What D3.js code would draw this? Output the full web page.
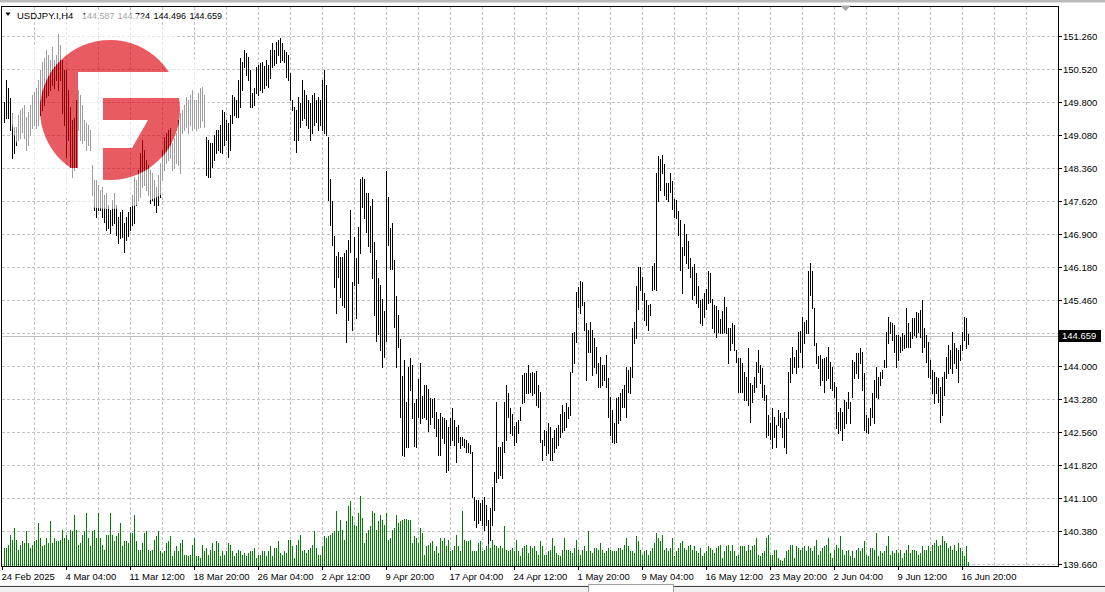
<!DOCTYPE html>
<html><head><meta charset="utf-8">
<script src="https://cdn.jsdelivr.net/npm/d3@7"></script>
<style>html,body{margin:0;padding:0;background:#fff;overflow:hidden}</style>
</head><body>
<svg id="c" width="1105" height="592"></svg>
<script>
const symbol = "USDJPY.I,H4";
const lastOHLC = ["144.587", "144.724", "144.496", "144.659"];
const currentPrice = 144.659;
const yTickLabels = ["139.660","140.380","141.100","141.820","142.560","143.280","144.000","144.740","145.460","146.180","146.900","147.620","148.360","149.080","149.800","150.520","151.260"];
const xTickLabels = ["24 Feb 2025","4 Mar 04:00","11 Mar 12:00","18 Mar 20:00","26 Mar 04:00","2 Apr 12:00","9 Apr 20:00","17 Apr 04:00","24 Apr 12:00","1 May 20:00","9 May 04:00","16 May 12:00","23 May 20:00","2 Jun 04:00","9 Jun 12:00","16 Jun 20:00"];

const highs = [
149.81,150.29,150.12,149.90,149.57,149.26,149.26,149.52,149.63,149.68,149.74,149.48,149.59,149.74,149.96,150.03,
150.12,150.29,150.51,150.69,150.78,150.95,150.84,150.73,151.02,150.73,150.84,151.30,151.06,150.73,150.51,150.51,
150.07,149.70,149.41,149.46,149.85,150.07,149.96,149.74,149.41,149.35,149.30,149.19,148.43,148.10,148.10,147.99,
147.88,147.94,147.77,147.81,147.55,147.44,147.66,147.81,147.55,147.28,147.39,147.44,147.15,147.28,147.39,147.50,
147.77,148.16,148.10,148.32,148.69,148.98,148.76,148.54,148.43,148.32,148.25,148.10,147.94,148.21,148.47,148.76,
149.04,149.13,149.19,149.24,148.91,149.02,149.13,149.41,149.57,149.63,149.74,149.92,149.85,149.96,150.07,149.85,
149.85,150.01,150.12,150.14,149.96,149.04,148.98,148.91,148.91,149.08,149.19,149.19,149.30,149.63,149.59,149.41,
149.35,149.52,149.96,149.92,149.85,150.29,150.78,150.69,150.95,150.89,150.80,150.51,150.01,150.12,150.58,150.62,
150.67,150.69,150.60,150.73,150.62,150.95,151.11,150.95,151.13,151.17,151.22,151.11,150.95,150.91,150.84,150.45,
149.85,149.70,149.63,149.92,149.79,150.29,150.07,149.96,149.85,149.79,149.96,150.01,149.85,149.92,149.85,150.29,
150.51,150.18,149.04,148.12,147.64,146.87,146.43,146.51,146.40,146.40,146.49,146.56,146.78,147.44,145.86,146.84,
146.38,147.06,148.12,148.16,148.12,147.81,147.81,147.53,147.68,146.73,146.34,145.94,145.79,145.48,145.22,148.29,
147.72,147.04,147.15,146.34,145.55,145.13,144.60,143.79,144.14,143.22,143.99,144.19,144.03,143.20,143.29,143.73,
144.08,143.35,143.59,143.59,143.51,143.31,143.29,143.31,143.00,142.85,142.98,142.89,142.87,142.83,142.67,142.87,
143.09,142.83,142.67,142.71,142.45,142.45,142.41,142.38,142.32,142.27,142.12,141.13,141.07,141.07,141.00,141.07,
141.13,140.96,140.63,140.89,141.35,141.68,143.22,142.23,142.23,142.34,143.22,143.59,143.42,143.09,142.96,142.69,
142.78,142.83,143.11,143.81,143.86,143.86,144.03,143.86,143.88,143.86,143.90,143.59,143.44,142.38,142.61,142.58,
142.76,142.67,142.43,142.61,142.65,142.71,142.96,143.15,143.00,143.20,143.11,143.88,144.73,144.76,145.64,145.75,
145.88,145.86,145.42,144.95,144.80,144.98,144.80,144.63,144.43,144.08,144.21,144.03,144.03,144.25,143.75,143.33,
143.04,142.76,143.31,143.33,143.42,143.51,143.59,143.99,143.92,143.99,144.84,144.98,145.77,146.19,146.19,145.97,
145.61,145.46,145.35,145.37,146.21,146.27,148.25,148.62,148.56,148.65,148.45,148.03,148.03,148.25,148.07,147.68,
147.66,147.42,147.22,146.62,147.13,146.91,146.76,146.38,146.19,146.25,146.05,145.77,145.46,145.48,145.61,145.70,
146.10,146.05,145.48,145.35,145.33,145.24,145.04,145.22,145.53,145.31,144.84,144.84,144.95,144.91,144.36,144.19,
144.19,144.08,143.88,143.77,144.41,143.64,143.59,143.77,144.10,144.36,144.03,143.97,143.59,143.37,142.93,142.76,
143.09,142.89,142.71,143.04,142.98,142.87,143.00,142.87,143.88,144.19,144.43,144.21,144.36,144.76,144.78,145.09,
144.98,145.02,146.10,146.27,146.10,145.28,144.52,144.23,144.25,144.16,144.19,144.21,144.43,144.10,143.99,143.66,
143.55,143.00,143.09,143.00,143.26,143.22,143.44,143.22,144.14,144.10,144.30,144.30,144.41,144.32,143.86,142.93,
142.87,143.09,143.42,143.70,143.99,143.77,143.88,143.92,144.14,144.76,145.09,144.98,144.95,144.91,144.69,144.69,
144.65,144.73,144.69,145.28,144.95,144.76,145.06,145.06,145.20,145.17,145.24,145.46,144.84,144.69,144.54,144.14,
143.92,143.88,143.77,143.75,143.55,143.77,143.88,144.21,144.47,144.36,144.76,144.52,144.41,144.36,144.47,144.76,
145.09,145.06,144.72];

const lows = [
149.37,149.46,149.46,149.19,148.58,148.69,148.87,148.98,149.02,149.15,149.02,148.76,148.87,149.08,149.24,149.30,
149.24,149.30,149.52,149.63,149.74,149.92,149.96,150.07,150.18,150.12,150.29,150.07,150.29,149.57,149.30,148.60,
148.98,148.38,148.16,148.32,148.38,149.19,148.98,148.91,148.98,148.76,148.87,148.76,147.77,147.44,147.28,147.44,
147.44,147.28,147.17,147.00,147.04,146.93,147.11,147.15,146.89,146.71,146.82,146.84,146.51,146.78,146.87,147.00,
147.11,147.15,147.55,147.66,147.72,147.94,147.99,147.88,147.77,147.59,147.66,147.55,147.39,147.55,147.72,148.10,
148.32,148.47,148.54,148.58,148.32,148.36,148.47,148.43,148.25,149.13,149.19,149.26,149.13,149.30,149.19,149.24,
149.19,149.24,149.26,149.41,149.26,148.21,148.16,148.16,148.38,148.54,148.69,148.76,148.71,148.69,148.87,148.98,
148.60,148.76,149.35,149.52,149.48,149.48,149.70,150.07,150.58,150.40,150.29,149.70,149.70,149.74,150.01,149.96,
150.07,150.03,150.12,150.18,150.14,150.34,150.58,150.62,150.67,150.84,150.69,150.73,150.69,150.36,150.29,149.85,
149.63,148.98,148.71,148.98,149.26,149.41,149.46,149.30,149.24,148.98,149.13,149.30,149.37,149.19,149.30,149.19,
149.13,149.08,147.66,147.11,146.67,145.75,145.17,145.97,145.53,145.35,145.31,144.54,145.02,146.51,144.80,145.79,
145.06,145.83,146.49,147.50,147.26,146.95,146.65,146.51,145.94,145.13,144.56,144.71,144.36,143.99,144.21,144.56,
146.67,146.14,146.14,144.87,143.99,144.43,142.89,142.05,142.03,142.23,142.23,143.48,142.87,142.25,142.23,142.89,
142.76,142.87,142.89,142.85,142.58,142.74,142.89,142.65,142.47,142.05,142.05,142.43,142.32,141.68,141.73,142.27,
142.38,142.27,141.90,142.34,142.21,142.27,142.23,142.12,142.12,142.10,141.13,140.63,140.47,140.56,140.63,140.52,
140.41,140.52,140.12,140.19,140.52,140.85,141.46,141.55,141.62,141.55,142.12,142.38,142.89,142.54,142.49,142.27,
142.34,142.54,142.83,143.20,143.22,143.42,143.42,143.44,143.37,143.42,143.15,143.11,142.34,141.95,142.27,142.05,
142.10,141.95,141.95,142.12,142.21,142.27,142.45,142.56,142.61,142.67,142.87,142.93,143.88,144.08,144.54,145.31,
145.17,145.35,144.80,143.70,144.32,144.32,143.81,143.99,143.86,143.55,143.55,143.59,143.70,143.55,142.89,142.49,
142.34,142.32,142.34,142.76,142.83,143.11,143.11,142.89,143.44,143.42,143.77,144.52,144.63,145.26,145.68,145.46,
145.02,144.91,144.80,145.13,145.68,145.70,145.68,147.64,147.88,148.25,147.77,147.68,147.64,147.83,147.46,147.28,
147.26,146.89,146.12,145.61,146.45,146.27,146.16,145.97,145.48,145.57,145.39,145.31,144.95,144.91,145.09,145.26,
145.39,145.42,144.84,144.76,144.65,144.76,144.73,144.73,144.76,144.73,144.08,144.36,144.52,144.36,144.10,143.44,
143.44,143.44,143.26,143.26,143.15,142.78,143.22,143.44,143.55,143.88,143.64,143.33,143.26,142.45,142.49,142.41,
142.21,142.45,142.23,142.71,142.67,142.45,142.23,142.10,142.87,143.66,143.86,143.99,143.86,143.99,144.32,143.99,
144.52,144.73,144.73,145.57,145.28,144.47,144.08,143.97,143.59,143.70,143.44,143.70,143.75,143.53,143.48,143.33,
142.65,142.54,142.61,142.38,142.65,142.76,143.09,142.76,143.33,143.75,143.86,143.75,144.08,143.48,142.61,142.56,
142.54,142.71,142.89,142.76,143.33,143.31,143.59,143.75,143.99,143.99,144.52,144.73,144.58,144.32,143.99,144.14,
144.32,144.36,144.41,144.43,144.43,144.43,144.63,144.69,144.65,144.76,144.65,144.32,144.43,144.10,143.77,143.75,
143.42,143.20,143.42,143.22,142.78,142.93,143.37,143.75,143.86,143.97,143.86,144.08,143.97,143.66,144.14,144.36,
144.58,144.41,144.50];

const volumes = [
19,19,22.3,32.3,27.3,39,27.3,17.3,22.3,25.7,24,35.7,24,19,22.3,25.7,27.3,44,29,20.7,
22.3,29,24,45.7,24,29,25.7,25.7,27.3,37.3,29,32.3,27.3,37.3,35.7,52.3,37.3,22.3,24,32.3,
35.7,54,29,20.7,35.7,37.3,29,54,29,22.3,17.3,32.3,32.3,54,32.3,25.7,30.7,34,44,20.7,
25.7,25.7,24,34,34,52.3,25.7,17.3,17.3,24,34,35.7,17.3,15.7,17.3,27.3,30.7,35.7,15.7,14,
15.7,24,25.7,30.7,10.7,15.7,20.7,15.7,24,27.3,12.3,12.3,10.7,12.3,22.3,29,10.7,10.7,9,22.3,
15.7,19,12.3,17.3,24,15.7,25.7,24,10.7,15.7,12.3,15.7,24,22.3,15.7,10.7,14,17.3,15.7,12.3,
14,10.7,14,15.7,15.7,19,9,12.3,12.3,15.7,15.7,10.7,15.7,20.7,10.7,19,19,25.7,14,12.3,
15.7,14,27.3,27.3,20.7,9,22.3,27.3,32.3,15.7,17.3,14,17.3,19,22.3,35.7,19,12.3,12.3,20.7,
30.7,29,30.7,32.3,34,35.7,55.7,35.7,47.3,37.3,27.3,45.7,60.7,65.7,50.7,42.3,40.7,54,
70.7,49,24,34,37.3,40.7,55.7,54,37.3,45.7,52.3,47.3,42.3,54,27.3,29,37.3,39,52.3,44,
45.7,47.3,48,48,47.3,47.3,24,30.7,29,24,39,34,12.3,20.7,22.3,24,25.7,15.7,20.7,14,
29,25.7,29,20.7,27.3,15.7,17.3,20.7,32.3,20.7,15.7,55.7,27.3,25.7,25.7,27.3,15.7,15.7,15.7,24,
25.7,15.7,17.3,20.7,24,19,27.3,22.3,20.7,19,20.7,19,40.7,17.3,15.7,17.3,19,15.7,27.3,15.7,
10.7,19,20.7,22.3,14,20.7,19,20.7,15.7,12.3,25.7,20.7,12.3,12.3,15.7,17.3,29,20.7,14,12.3,
10.7,17.3,29,17.3,17.3,15.7,14,19,27.3,17.3,12.3,17.3,20.7,15.7,35.7,15.7,14,19,19,17.3,
24,17.3,14,15.7,19,17.3,15.7,15.7,15.7,19,19,17.3,22.3,29,20.7,15.7,15.7,14,30.7,25.7,
17.3,12.3,15.7,17.3,12.3,15.7,19,24,34,29,25.7,32.3,17.3,19,15.7,19,29,10.7,15.7,19,
24,25.7,19,17.3,20.7,22.3,17.3,20.7,15.7,14,19,10.7,14,15.7,20.7,19,17.3,14,19,20.7,
22.3,9,15.7,20.7,22.3,15.7,22.3,15.7,10.7,12.3,20.7,20.7,20.7,15.7,22.3,17.3,20.7,22.3,29,12.3,
10.7,14,15.7,29,32.3,12.3,12.3,17.3,17.3,9,7.3,5.7,9,15.7,17.3,22.3,22.3,9,20.7,19,
17.3,19,20.7,15.7,20.7,19,15.7,20.7,27.3,12.3,15.7,19,20.7,22.3,29,14,9,17.3,22.3,19,
30.7,17.3,12.3,15.7,17.3,10.7,15.7,9,17.3,19,15.7,19,25.7,12.3,10.7,19,19,17.3,34,10.7,
15.7,14,15.7,20.7,30.7,12.3,15.7,14,17.3,14,17.3,9,14,17.3,22.3,14,17.3,17.3,15.7,12.3,
14,20.7,17.3,17.3,20.7,15.7,22.3,24,27.3,20.7,22.3,30.7,25.7,24,19,20.7,17.3,22.3,15.7,24,
19,15.7,10.7,20.7,4.7];

const N = Math.min(highs.length, lows.length, volumes.length);
const FONT = "'Liberation Sans', Arial, sans-serif";

const svg = d3.select("#c");
const defs = svg.append("defs");

// plot frame
const L = 1.5, T = 6.5, R = 1058.5, B = 566.5;

const x = d3.scaleLinear().domain([0, N - 1]).range([4, 4 + 2 * (N - 1)]);
const y = d3.scaleLinear().domain([139.66, 151.26]).range([564, 36]);
const v = d3.scaleLinear().domain([0, 100]).range([567, 467]);

svg.append("rect").attr("width", 1105).attr("height", 592).attr("fill", "#fff");
// top window strip
svg.append("rect").attr("x", 0).attr("y", 0).attr("width", 1105).attr("height", 2.5).attr("fill", "#b9b9b9");

// grid
const gridVals = d3.range(yTickLabels.length).map(k => 139.66 + k * (151.26 - 139.66) / (yTickLabels.length - 1));
const grid = svg.append("g").attr("stroke", "#c3c3c3").attr("stroke-dasharray", "3,2").attr("shape-rendering", "crispEdges");
grid.selectAll("line.h").data(gridVals).join("line").attr("class", "h")
  .attr("x1", L).attr("x2", R)
  .attr("y1", d => Math.round(y(d)) + 0.5).attr("y2", d => Math.round(y(d)) + 0.5);
const vIdx = d3.range(1, 33).map(k => 16 * k - 1);
grid.selectAll("line.v").data(vIdx).join("line").attr("class", "v")
  .attr("y1", T).attr("y2", B)
  .attr("x1", d => x(d) + 0.5).attr("x2", d => x(d) + 0.5);

// current price line
const py = Math.floor(y(currentPrice)) + 0.5;
svg.append("line").attr("x1", L).attr("x2", R).attr("y1", py).attr("y2", py)
  .attr("stroke", "#bdbdbd").attr("shape-rendering", "crispEdges");

const idx = d3.range(N);
// volumes
svg.append("g").attr("fill", "#008000").attr("shape-rendering", "crispEdges")
  .selectAll("rect").data(idx).join("rect")
  .attr("x", i => x(i)).attr("width", 1)
  .attr("y", i => Math.round(v(volumes[i])))
  .attr("height", i => Math.max(1, 566 - Math.round(v(volumes[i]))));

// price bars (high-low)
svg.append("g").attr("fill", "#000").attr("shape-rendering", "crispEdges")
  .selectAll("rect").data(idx).join("rect")
  .attr("x", i => x(i)).attr("width", 1)
  .attr("y", i => Math.round(y(highs[i])))
  .attr("height", i => Math.max(1, Math.round(y(lows[i])) - Math.round(y(highs[i])) + 1));

// frame
svg.append("rect").attr("x", L).attr("y", T).attr("width", R - L).attr("height", B - T)
  .attr("fill", "none").attr("stroke", "#000").attr("shape-rendering", "crispEdges");

// y axis
const yAxis = d3.axisRight(y).tickValues(gridVals).tickSize(4).tickPadding(1)
  .tickFormat((d, i) => yTickLabels[i]);
const gy = svg.append("g").attr("transform", `translate(${R - 0.5},0)`).call(yAxis);
gy.select(".domain").remove();
gy.selectAll(".tick").attr("transform", d => `translate(0,${Math.round(y(d)) + 0.5})`);
gy.selectAll("text").attr("font-family", FONT).attr("font-size", 9.5).attr("fill", "#000");
gy.selectAll("line").attr("stroke", "#000").attr("shape-rendering", "crispEdges");

// x axis
const xIdx = d3.range(xTickLabels.length).map(m => 32 * m - 1);
const xAxis = d3.axisBottom(x).tickValues(xIdx).tickSize(4).tickPadding(3)
  .tickFormat((d, i) => xTickLabels[i]);
const gx = svg.append("g").attr("transform", `translate(0,${B - 0.5})`).call(xAxis);
gx.select(".domain").remove();
gx.selectAll("text").attr("font-family", FONT).attr("font-size", 9.5).attr("fill", "#000")
  .attr("text-anchor", "start").attr("x", -1);
gx.selectAll("line").attr("stroke", "#000").attr("shape-rendering", "crispEdges");

// price label box
const pb = svg.append("g").attr("transform", `translate(1059,${py - 0.5})`);
pb.append("rect").attr("x", 0).attr("y", -6).attr("width", 42).attr("height", 12).attr("fill", "#000");
pb.append("text").attr("x", 3).attr("y", 0).attr("dy", "0.34em").attr("fill", "#fff")
  .attr("font-family", FONT).attr("font-size", 9.5).text(currentPrice.toFixed(3));

// header
svg.append("path").attr("d", "M5.5,12.5H10.5L8,16Z").attr("fill", "#000");
const hdr = svg.append("g").attr("font-family", FONT).attr("font-size", 9).attr("fill", "#000");
hdr.append("text").attr("x", 17).attr("y", 18.5).attr("font-size", 9.5).text(symbol);
const hx = [82, 117.5, 153.5, 189.5];
hdr.selectAll("text.o").data(lastOHLC).join("text").attr("class", "o")
  .attr("x", (d, i) => hx[i]).attr("y", 18.5).text(d => d);

// chart-shift marker
svg.append("path").attr("d", "M840,5.5H851L845.5,11Z").attr("fill", "#a8a8a8");

// watermark logo
const clip = defs.append("clipPath").attr("id", "logoClip");
clip.append("circle").attr("cx", 110).attr("cy", 110).attr("r", 70);
function logoShapes(g) {
  g.append("rect").attr("x", 36).attr("y", 36).attr("width", 42).attr("height", 132);
  g.append("rect").attr("x", 36).attr("y", 36).attr("width", 150).attr("height", 36);
  g.append("path").attr("fill-rule", "evenodd")
    .attr("d", "M103,98H184V184H103Z M103,120H148L132,148H103Z");
}
const mask = defs.append("mask").attr("id", "haloMask").attr("maskUnits", "userSpaceOnUse")
  .attr("x", 0).attr("y", 0).attr("width", 1105).attr("height", 592);
mask.append("rect").attr("width", 1105).attr("height", 592).attr("fill", "#fff");
const mg = mask.append("g").attr("clip-path", "url(#logoClip)").attr("fill", "#000");
logoShapes(mg);
svg.append("circle").attr("cx", 110).attr("cy", 110).attr("r", 99)
  .attr("fill", "#fff").attr("opacity", 0.62).attr("mask", "url(#haloMask)");
const lg = svg.append("g").attr("clip-path", "url(#logoClip)").attr("fill", "rgb(222,4,16)").attr("opacity", 0.65);
logoShapes(lg);

// bottom tab strip
svg.append("rect").attr("x", 0).attr("y", 585).attr("width", 1105).attr("height", 7).attr("fill", "#f0f0f0");
svg.append("line").attr("x1", 0).attr("x2", 588).attr("y1", 586.5).attr("y2", 586.5).attr("stroke", "#404040");
svg.append("line").attr("x1", 674).attr("x2", 1105).attr("y1", 586.5).attr("y2", 586.5).attr("stroke", "#404040");
svg.append("rect").attr("x", 588.5).attr("y", 584.5).attr("width", 85).attr("height", 9)
  .attr("fill", "#fff").attr("stroke", "#a0a0a0");
</script>
</body></html>
